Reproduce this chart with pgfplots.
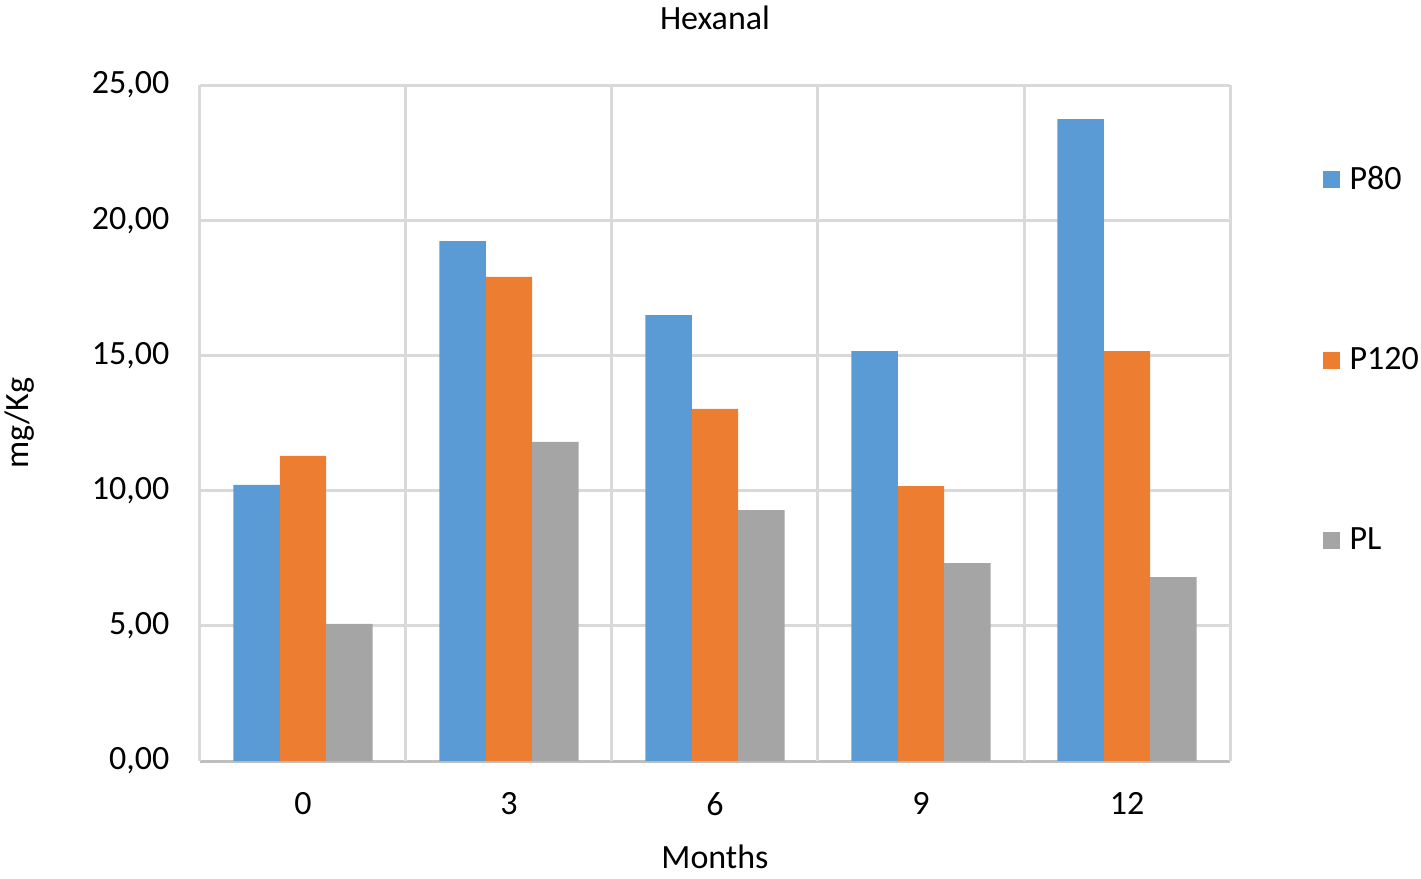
\documentclass[border=0pt]{standalone}
\usepackage{pgfplots}
\pgfplotsset{compat=1.18}
\usepackage{fontspec}
\setmainfont{Carlito}
\definecolor{cP80}{HTML}{5B9BD5}
\definecolor{cP120}{HTML}{ED7D31}
\definecolor{cPL}{HTML}{A5A5A5}
\definecolor{gridc}{HTML}{D9D9D9}
\definecolor{axc}{HTML}{BFBFBF}
\begin{document}
\begin{tikzpicture}[x=0.5pt,y=0.5pt]
\useasboundingbox (-200,-118) rectangle (1221,761);
\begin{axis}[
  at={(0,0)}, anchor=south west,
  scale only axis,
  width=515pt, height=338pt,
  xmin=-0.5, xmax=4.5, ymin=0, ymax=25,
  ybar=0pt, bar width=0.2255,
  xtick={0,1,2,3,4},
  xticklabels={0,3,6,9,12},
  extra x ticks={-0.5,0.5,1.5,2.5,3.5,4.5},
  extra x tick labels={},
  extra x tick style={grid=major, major grid style={gridc, line width=1.5pt},
     major tick length=5pt, tick style={axc, line width=1.5pt}},
  xtick style={draw=none},
  ytick={0,5,10,15,20,25},
  ymajorgrids, major grid style={gridc, line width=1.5pt},
  ytick style={draw=none},
  axis x line*=bottom, axis y line*=left,
  x axis line style={axc, line width=1.5pt, -},
  y axis line style={axc, line width=1.5pt, -},
  tick align=outside,
  yticklabel style={/pgf/number format/fixed, /pgf/number format/fixed zerofill, /pgf/number format/precision=2, /pgf/number format/use comma, /pgf/number format/assume math mode=true, xshift=-7.5pt},
  ticklabel style={font=\fontsize{17}{20}\selectfont, text=black},
  xticklabel style={/pgf/number format/assume math mode=true, yshift=-8pt},
  title={Hexanal},
  title style={font=\fontsize{17}{20}\selectfont, at={(0.5,1)}, anchor=center, yshift=27.5pt},
  xlabel={Months},
  xlabel style={font=\fontsize{17}{20}\selectfont, at={(0.5,0)}, anchor=center, yshift=-48pt},
  ylabel={mg/Kg},
  ylabel style={font=\fontsize{17}{20}\selectfont, at={(0,0.5)}, anchor=center, rotate=0, yshift=90pt},
  legend style={draw=none, at={(1.0895,0.886)}, anchor=north west,
    font=\fontsize{17}{20}\selectfont, row sep=73.5pt, inner sep=0pt,
    /tikz/every odd column/.append style={column sep=3pt}},
  legend cell align=left,
  legend image code/.code={\fill[#1] (0pt,-4.3pt) rectangle (8.5pt,4.3pt);},
  clip=false,
]
\addplot[fill=cP80, draw=none] coordinates {(0,10.21) (1,19.23) (2,16.49) (3,15.16) (4,23.74)};
\addplot[fill=cP120, draw=none] coordinates {(0,11.28) (1,17.90) (2,13.02) (3,10.17) (4,15.16)};
\addplot[fill=cPL, draw=none] coordinates {(0,5.07) (1,11.80) (2,9.28) (3,7.32) (4,6.80)};
\legend{P80,P120,PL}
\end{axis}
\end{tikzpicture}
\end{document}
